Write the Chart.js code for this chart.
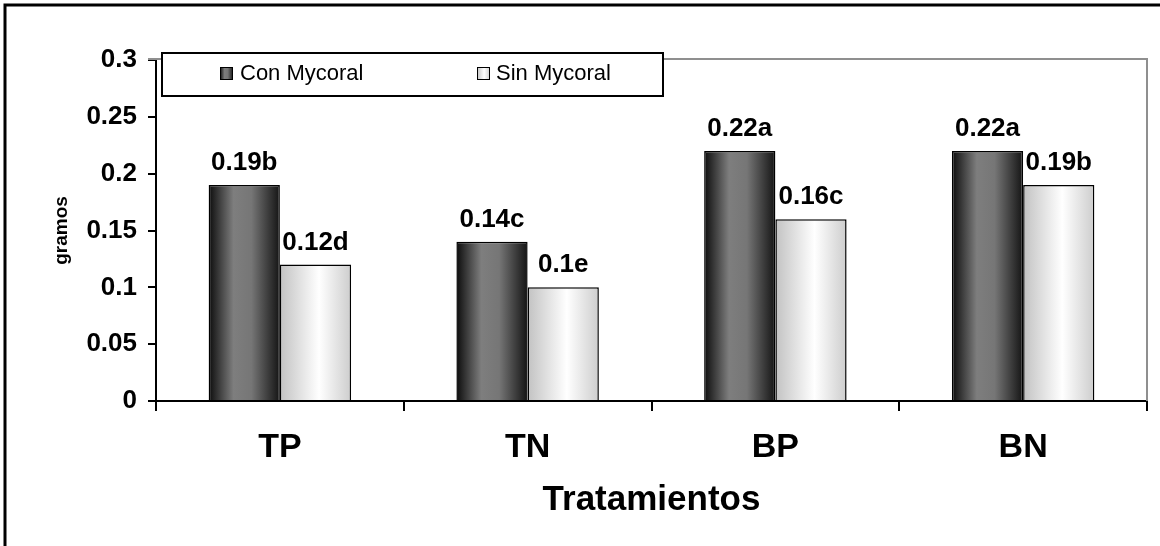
<!DOCTYPE html>
<html>
<head>
<meta charset="utf-8">
<script src="https://cdn.jsdelivr.net/npm/chart.js@4/dist/chart.umd.min.js"></script>
<style>
  html, body { margin:0; padding:0; background:#fff; }
  #wrap { width:1160px; height:546px; position:relative; }
</style>
</head>
<body>
<div id="wrap"><canvas id="c"></canvas></div>
<script>
const categories = ['TP', 'TN', 'BP', 'BN'];
const conMycoral = [0.19, 0.14, 0.22, 0.22];
const sinMycoral = [0.12, 0.10, 0.16, 0.19];
const conLabels = ['0.19b', '0.14c', '0.22a', '0.22a'];
const sinLabels = ['0.12d', '0.1e', '0.16c', '0.19b'];
const yTicks = [0, 0.05, 0.1, 0.15, 0.2, 0.25, 0.3];

const FONT = '"Liberation Sans", Arial, sans-serif';
const darkStops = [[0, '#0c0c0c'], [0.35, '#7e7e7e'], [0.6, '#767676'], [1, '#141414']];
const lightStops = [[0, '#c2c2c2'], [0.55, '#ffffff'], [1, '#cdcdcd']];

function grad(ctx, x0, x1, stops) {
  const g = ctx.createLinearGradient(x0, 0, x1, 0);
  stops.forEach(s => g.addColorStop(s[0], s[1]));
  return g;
}

// gradient bar fill, plot frame, value labels, legend box
const barFill = {
  id: 'barFill',
  beforeDatasetsDraw(chart) {
    const {ctx, chartArea: a} = chart;
    ctx.save();
    ctx.strokeStyle = '#8f8f8f';
    ctx.lineWidth = 2;
    ctx.beginPath();
    ctx.moveTo(a.left - 8, a.top - 1);
    ctx.lineTo(a.right, a.top - 1);
    ctx.lineTo(a.right, a.bottom);
    ctx.stroke();
    ctx.restore();
    chart.data.datasets.forEach((ds, i) => {
      chart.getDatasetMeta(i).data.forEach(el => {
        const {x, width} = el.getProps(['x', 'width'], true);
        const g = grad(ctx, x - width / 2, x + width / 2, ds.stops);
        el.options = Object.assign({}, el.options, {backgroundColor: g});
      });
    });
  },
  afterDatasetsDraw(chart) {
    const {ctx} = chart;
    ctx.save();
    ctx.font = 'bold 26px ' + FONT;
    ctx.fillStyle = '#000';
    ctx.textAlign = 'center';
    ctx.textBaseline = 'alphabetic';
    chart.data.datasets.forEach((ds, i) => {
      chart.getDatasetMeta(i).data.forEach((el, j) => {
        const {x, y} = el.getProps(['x', 'y'], true);
        ctx.fillText(ds.valueLabels[j], x, y - 15);
      });
    });
    ctx.restore();
  },
  afterDraw(chart) {
    const {ctx} = chart;
    ctx.save();
    // outer frame (only left and top show)
    ctx.strokeStyle = '#000';
    ctx.lineWidth = 3;
    ctx.strokeRect(5, 5, 1300, 700);
    // legend box
    ctx.fillStyle = '#fff';
    ctx.fillRect(162, 53, 501, 43);
    ctx.lineWidth = 2;
    ctx.strokeRect(162, 53, 501, 43);
    const items = [[220, 240], [477, 496]];
    ctx.font = '22px ' + FONT;
    ctx.textBaseline = 'middle';
    chart.data.datasets.forEach((ds, i) => {
      const [sx, tx] = items[i];
      ctx.fillStyle = grad(ctx, sx, sx + 13, ds.stops);
      ctx.fillRect(sx, 67, 13, 13);
      ctx.lineWidth = 1;
      ctx.strokeRect(sx + 0.5, 67.5, 12, 12);
      ctx.fillStyle = '#000';
      ctx.fillText(ds.label, tx, 74);
    });
    ctx.restore();
  }
};

new Chart(document.getElementById('c').getContext('2d'), {
  type: 'bar',
  data: {
    labels: categories,
    datasets: [
      { label: 'Con Mycoral', data: conMycoral, valueLabels: conLabels, stops: darkStops,
        backgroundColor: '#555', borderColor: '#000', borderWidth: 1.5 },
      { label: 'Sin Mycoral', data: sinMycoral, valueLabels: sinLabels, stops: lightStops,
        backgroundColor: '#eee', borderColor: '#000', borderWidth: 1.5 }
    ]
  },
  options: {
    responsive: true,
    maintainAspectRatio: false,
    animation: false,
    layout: { padding: { top: 60, right: 13, left: 0, bottom: 0 } },
    datasets: { bar: { categoryPercentage: 0.575, barPercentage: 1 } },
    plugins: { legend: { display: false }, tooltip: { enabled: false } },
    scales: {
      x: {
        afterFit: s => { s.height = 145; },
        grid: { drawOnChartArea: false, color: '#000', lineWidth: 2, tickLength: 10 },
        border: { color: '#000', width: 2 },
        ticks: { color: '#000', padding: 16, font: { family: FONT, size: 34, weight: 'bold' } },
        title: { display: true, text: 'Tratamientos', color: '#000',
                 font: { family: FONT, size: 35, weight: 'bold' }, padding: { top: 0, bottom: 25 } }
      },
      y: {
        min: 0, max: 0.3,
        afterFit: s => { s.width = 156; },
        afterBuildTicks: s => { s.ticks = yTicks.map(v => ({ value: v })); },
        grid: { drawOnChartArea: false, color: '#000', lineWidth: 2, tickLength: 8 },
        border: { color: '#000', width: 2 },
        ticks: { color: '#000', padding: 11, font: { family: FONT, size: 26, weight: 'bold' },
                 callback: v => String(+v.toFixed(2)) },
        title: { display: true, text: 'gramos', color: '#000',
                 font: { family: FONT, size: 19, weight: 'bold' }, padding: { top: 50, bottom: 0 } }
      }
    }
  },
  plugins: [barFill]
});
</script>
</body>
</html>
